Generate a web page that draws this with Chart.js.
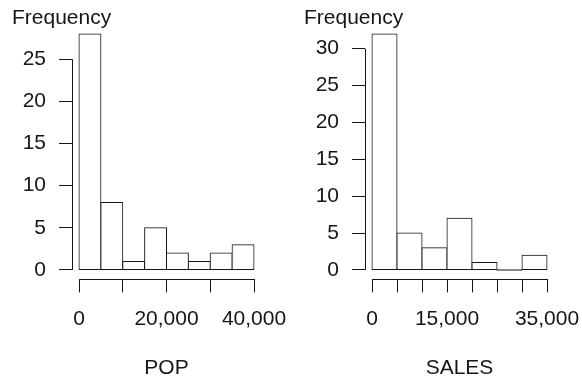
<!DOCTYPE html>
<html>
<head>
<meta charset="utf-8">
<script src="https://cdn.jsdelivr.net/npm/chart.js@4/dist/chart.umd.min.js"></script>
<style>
  html, body { margin: 0; padding: 0; background: #fff; }
  #wrap { position: relative; width: 582px; height: 381px; }
  canvas { position: absolute; top: 0; }
  #popChart { left: 0; }
  #salesChart { left: 291px; }
</style>
</head>
<body>
<div id="wrap">
  <canvas id="popChart" width="291" height="381"></canvas>
  <canvas id="salesChart" width="291" height="381"></canvas>
</div>
<script>
// POP histogram: bins of 5,000
const popBreaks = [0, 5000, 10000, 15000, 20000, 25000, 30000, 35000, 40000];
const popCounts = [28, 8, 1, 5, 2, 1, 2, 3];
const popXTicks = [0, 10000, 20000, 30000, 40000];
const popXLabels = ['0', '', '20,000', '', '40,000'];
const popYTicks = [0, 5, 10, 15, 20, 25];

// SALES histogram: bins of 5,000
const salesBreaks = [0, 5000, 10000, 15000, 20000, 25000, 30000, 35000];
const salesCounts = [32, 5, 3, 7, 1, 0, 2];
const salesXTicks = [0, 5000, 10000, 15000, 20000, 25000, 30000, 35000];
const salesXLabels = ['0', '', '', '15,000', '', '', '', '35,000'];
const salesYTicks = [0, 5, 10, 15, 20, 25, 30];

const INK = '#161616';
const FONT = 'Liberation Sans, Arial, Helvetica, sans-serif';
Chart.defaults.font.family = FONT;
Chart.defaults.font.size = 21;
Chart.defaults.color = INK;

// Axis lines that run only from the first to the last tick
const axisLines = {
  id: 'axisLines',
  afterDraw(chart) {
    const { ctx, chartArea, scales: { x, y } } = chart;
    const lx = Math.round(chartArea.left) + 0.5;
    const by = Math.round(chartArea.bottom) + 0.5;
    const yt = y.ticks, xt = x.ticks;
    ctx.save();
    ctx.strokeStyle = INK;
    ctx.lineWidth = 1;
    ctx.beginPath();
    ctx.moveTo(lx, y.getPixelForValue(yt[0].value));
    ctx.lineTo(lx, y.getPixelForValue(yt[yt.length - 1].value));
    ctx.moveTo(x.getPixelForValue(xt[0].value), by);
    ctx.lineTo(x.getPixelForValue(xt[xt.length - 1].value), by);
    ctx.stroke();
    ctx.restore();
  }
};

const isEmptyBin = c => c.raw && c.raw.y === 0;

function histogram(id, breaks, counts, xTicks, xLabels, yTicks, xTitle, box) {
  const lo = breaks[0], hi = breaks[breaks.length - 1];
  const xPad = (hi - lo) * 0.04;
  const maxC = Math.max(...counts);
  const yPad = maxC * 0.04;
  const points = counts.map((c, i) => ({ x: (breaks[i] + breaks[i + 1]) / 2, y: c }));
  const tickGrid = {
    offset: false,
    drawOnChartArea: false,
    drawTicks: true,
    tickLength: 13,
    color: INK,
    lineWidth: 1
  };
  return new Chart(document.getElementById(id), {
    type: 'bar',
    data: {
      datasets: [{
        data: points,
        // an empty bin is drawn as a flat dark line on the baseline
        backgroundColor: c => (isEmptyBin(c) ? INK : '#ffffff'),
        borderColor: INK,
        borderWidth: 1,
        borderSkipped: false,
        // adjacent bins share one outline
        inflateAmount: c => (isEmptyBin(c) ? 0.25 : 0.5),
        minBarLength: 1,
        barPercentage: 1,
        categoryPercentage: 1
      }]
    },
    options: {
      responsive: false,
      animation: false,
      devicePixelRatio: 1,
      layout: { padding: { left: box.padLeft, right: box.padRight, top: 0, bottom: 0 } },
      plugins: {
        legend: { display: false },
        tooltip: { enabled: false },
        title: {
          display: true,
          text: 'Frequency',
          align: 'start',
          color: INK,
          font: { size: 21, weight: 'normal', lineHeight: 1.2 },
          padding: { top: 5.5, bottom: -6.2 }
        }
      },
      scales: {
        x: {
          type: 'linear',
          min: lo - xPad,
          max: hi + xPad,
          offset: false,
          grid: tickGrid,
          border: { display: false },
          ticks: {
            autoSkip: false,
            maxRotation: 0,
            minRotation: 0,
            padding: 14.5,
            color: INK,
            font: { size: 21, lineHeight: 1.2 },
            callback: (v, i) => xLabels[i]
          },
          afterBuildTicks: s => { s.ticks = xTicks.map(v => ({ value: v })); },
          afterFit: s => { s.height = 101.6; s.paddingLeft = 0; s.paddingRight = 0; },
          title: {
            display: true,
            text: xTitle,
            color: INK,
            font: { size: 21, lineHeight: 1.2 },
            padding: { top: 0, bottom: 0 }
          }
        },
        y: {
          type: 'linear',
          min: -yPad,
          max: maxC + yPad,
          grid: tickGrid,
          border: { display: false },
          ticks: {
            padding: 13,
            color: INK,
            font: { size: 21, lineHeight: 1 }
          },
          afterBuildTicks: s => { s.ticks = yTicks.map(v => ({ value: v })); },
          afterFit: s => { s.width = box.yWidth; s.paddingTop = 0; s.paddingBottom = 0; }
        }
      }
    },
    plugins: [axisLines]
  });
}

histogram('popChart', popBreaks, popCounts, popXTicks, popXLabels, popYTicks, 'POP',
  { padLeft: 12, yWidth: 60, padRight: 30 });
histogram('salesChart', salesBreaks, salesCounts, salesXTicks, salesXLabels, salesYTicks, 'SALES',
  { padLeft: 13, yWidth: 61, padRight: 28 });
</script>
</body>
</html>
